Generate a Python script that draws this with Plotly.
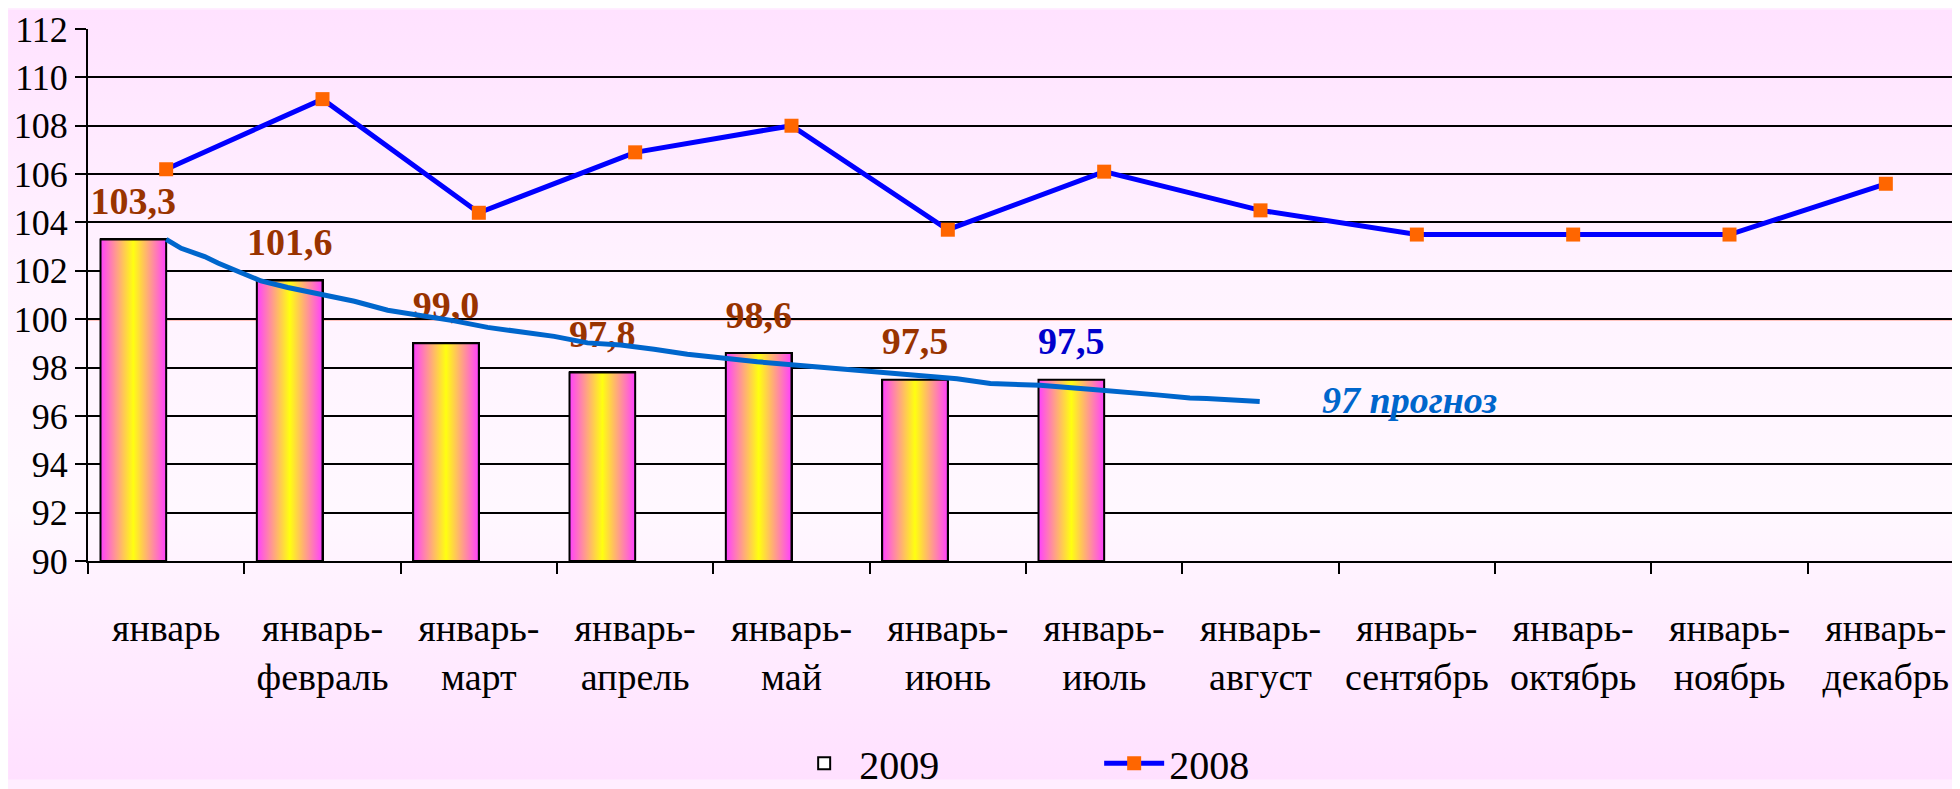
import base64
import plotly.graph_objects as go

# ---------------- data ----------------
categories = ["январь", "январь-февраль", "январь-март", "январь-апрель", "январь-май",
              "январь-июнь", "январь-июль", "январь-август", "январь-сентябрь",
              "январь-октябрь", "январь-ноябрь", "январь-декабрь"]
values_2009 = [103.3, 101.6, 99.0, 97.8, 98.6, 97.5, 97.5]
values_2008 = [106.2, 109.1, 104.4, 106.9, 108.0, 103.7, 106.1, 104.5, 103.5, 103.5, 103.5, 105.6]
label_colors_2009 = ["#993300", "#993300", "#993300", "#993300", "#993300", "#993300", "#0000CC"]

# forecast trend line, x in category units
forecast_x = [0.0, 0.096, 0.246, 0.331, 0.48, 0.607, 0.778, 0.906, 1.076, 1.204, 1.417, 1.63,
              1.843, 2.056, 2.269, 2.482, 2.695, 2.908, 3.121, 3.334, 3.781, 4.58, 4.74, 5.059,
              5.272, 5.589, 5.909, 6.124, 6.337, 6.548, 6.656, 6.995]
forecast_y = [103.3, 102.93, 102.59, 102.32, 101.92, 101.58, 101.31, 101.14, 100.87, 100.74,
              100.37, 100.17, 99.93, 99.66, 99.45, 99.29, 99.02, 98.93, 98.76, 98.55, 98.24,
              97.78, 97.68, 97.54, 97.34, 97.27, 97.10, 96.96, 96.87, 96.74, 96.72, 96.60]
forecast_value = 97

y_ticks = list(range(90, 113, 2))
y_min, y_max = 90, 112

FONT = "'Liberation Serif', 'Times New Roman', 'DejaVu Serif', serif"
BAR_W = 0.42

idx = list(range(len(categories)))
tick_text = [c.replace("-", "-<br>") for c in categories]

fig = go.Figure()

# base bars (white, give the legend swatch)
fig.add_trace(go.Bar(
    x=idx[:len(values_2009)], y=values_2009,
    width=BAR_W, offset=-BAR_W,
    marker=dict(color="white", line=dict(color="black", width=2)),
    name="2009", hoverinfo="skip",
))

# gradient-filled bar bodies
for i, v in enumerate(values_2009):
    fig.add_trace(go.Scatter(
        x=[i - BAR_W, i - BAR_W, i, i, i - BAR_W],
        y=[y_min, v, v, y_min, y_min],
        mode="lines", fill="toself",
        fillgradient=dict(type="horizontal",
                          colorscale=[[0, "#FF40FF"], [0.5, "#FFFF10"], [1, "#FF40FF"]]),
        line=dict(color="black", width=2),
        showlegend=False, hoverinfo="skip",
    ))

# data labels
fig.add_trace(go.Scatter(
    x=[i - BAR_W / 2 for i in range(len(values_2009))], y=values_2009,
    mode="markers+text",
    marker=dict(size=24, opacity=0),
    text=[f"{v:.1f}".replace(".", ",") for v in values_2009],
    textposition="top center",
    textfont=dict(family=FONT, size=38, color=label_colors_2009, weight="bold"),
    showlegend=False, hoverinfo="skip",
))

# forecast line
fig.add_trace(go.Scatter(
    x=forecast_x, y=forecast_y, mode="lines",
    line=dict(color="#0066CC", width=5),
    showlegend=False, hoverinfo="skip",
))

# 2008 line
fig.add_trace(go.Scatter(
    x=idx, y=values_2008, mode="lines+markers", name="2008",
    line=dict(color="#0000FF", width=5),
    marker=dict(symbol="square", size=14, color="#FF6600"),
))

fig.add_annotation(
    x=7.95, y=96.67, xref="x", yref="y",
    text=f"<b><i>{forecast_value} прогноз</i></b>", showarrow=False,
    font=dict(family=FONT, size=38, color="#0066CC"),
)

fig.add_shape(type="line", xref="paper", x0=0, x1=1, yref="y", y0=100, y1=100,
              line=dict(color="#FF3300", width=2), layer="between")

# background gradient
svg = ('<svg xmlns="http://www.w3.org/2000/svg" width="100" height="100" preserveAspectRatio="none">'
       '<defs><linearGradient id="g" x1="0" y1="0" x2="0" y2="1">'
       '<stop offset="0" stop-color="#FFE2FF"/>'
       '<stop offset="0.35" stop-color="#FFF3FF"/>'
       '<stop offset="0.65" stop-color="#FFF8FF"/>'
       '<stop offset="1" stop-color="#FFE0FF"/>'
       '</linearGradient></defs><rect width="100" height="100" fill="url(#g)"/></svg>')
src = "data:image/svg+xml;base64," + base64.b64encode(svg.encode()).decode()

W, H = 1960, 789
ml, mr, mt, mb = 80, 2, 20, 224
pw, ph = W - ml - mr, H - mt - mb
fig.add_layout_image(dict(
    source=src, xref="paper", yref="paper",
    x=-ml / pw, y=1 + mt / ph, sizex=W / pw, sizey=H / ph,
    sizing="stretch", xanchor="left", yanchor="top", layer="below",
))

fig.update_layout(
    width=W, height=H,
    margin=dict(l=ml, r=mr, t=mt, b=mb),
    paper_bgcolor="#FFEEFF", plot_bgcolor="rgba(0,0,0,0)",
    font=dict(family=FONT, color="black"),
    bargap=0,
    legend=dict(orientation="h", x=0.539, xanchor="center", y=-0.38, yanchor="middle",
                font=dict(family=FONT, size=40), bgcolor="rgba(0,0,0,0)", entrywidth=235,
                itemwidth=60),
    showlegend=True,
)
fig.update_xaxes(
    range=[-0.5, len(categories) - 0.5], tickmode="array", tickvals=idx, ticktext=tick_text,
    ticks="", showgrid=False, zeroline=False,
    showline=True, linecolor="black", linewidth=2,
    tickfont=dict(family=FONT, size=38, color="black"),
    ticklabelstandoff=32,
    minor=dict(tickmode="linear", tick0=-0.5, dtick=1, ticks="outside", ticklen=11,
               tickwidth=2, tickcolor="black", showgrid=False),
)
fig.update_yaxes(
    range=[y_min, y_max], tickmode="array", tickvals=y_ticks,
    ticks="outside", ticklen=11, tickwidth=2, tickcolor="black",
    showgrid=True, gridcolor="black", gridwidth=2, zeroline=False,
    showline=True, linecolor="black", linewidth=2, mirror=True,
    tickfont=dict(family=FONT, size=36, color="black"),
)

fig.write_html("out.html")
